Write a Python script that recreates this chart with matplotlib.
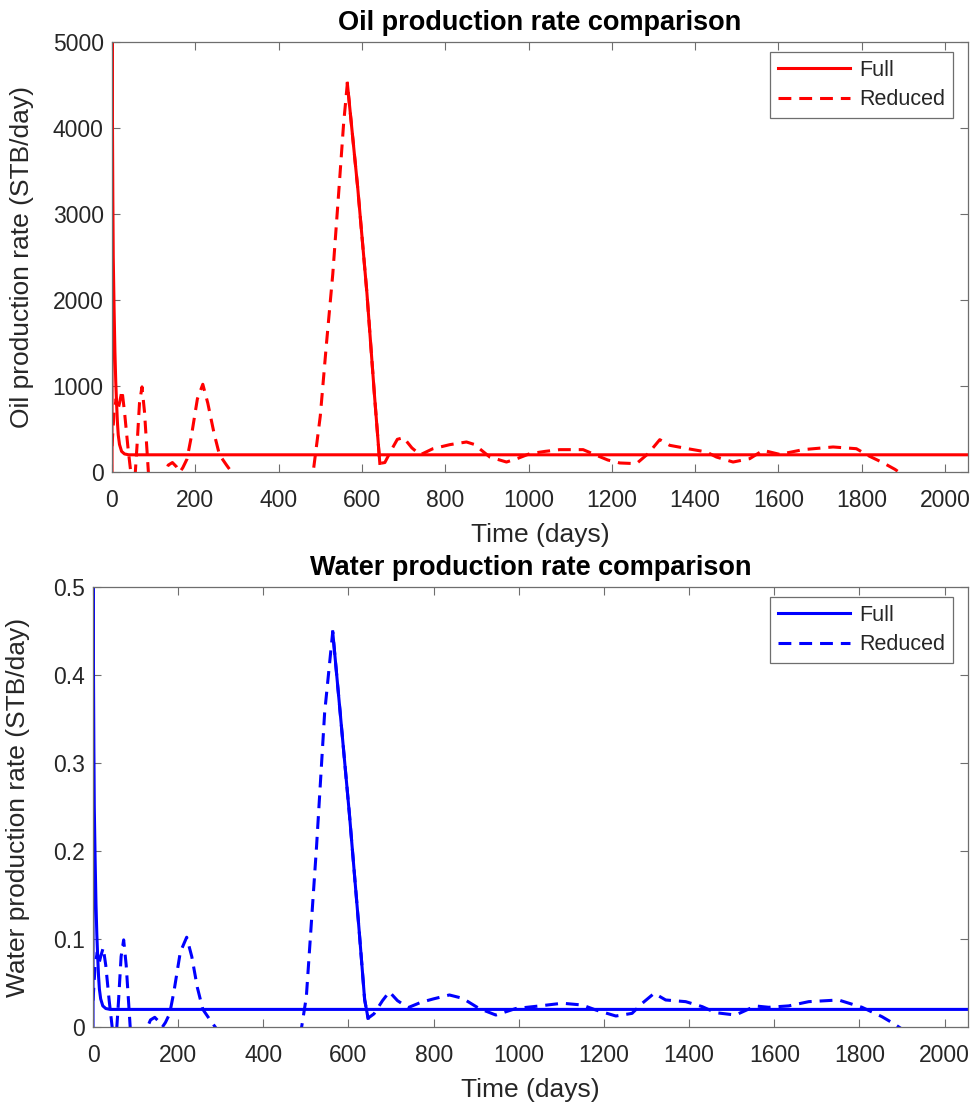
import matplotlib
matplotlib.use("Agg")
import matplotlib.pyplot as plt
import numpy as np

plt.rcParams['font.family'] = ['Liberation Sans', 'DejaVu Sans']

# ---------------- data ----------------
t_end = 2055

# Oil, full model
oil_full_t = [0, 0.5, 1, 2, 3, 5, 7, 9, 11, 13, 15, 18, 23, 30, 40, t_end]
oil_full_v = [0, 5600, 4200, 3200, 2500, 1900, 1400, 1050, 800, 580, 430, 320, 240, 210, 200, 200]

# Oil, reduced model
oil_red_t = [0, 5, 10, 14, 18, 24, 30, 38, 45, 52, 60, 66, 72, 78, 84, 90, 100, 115,
             128, 135, 145, 155, 163, 170, 180, 190, 205, 218, 230, 245, 258, 275, 290,
             320, 400, 460, 483, 500, 515, 530, 545, 556, 565, 590, 612, 630, 643, 655,
             670, 685, 700, 720, 740, 770, 811, 851, 870, 907, 947, 975, 1003, 1040,
             1075, 1131, 1163, 1190, 1219, 1259, 1287, 1315, 1339, 1387, 1427, 1451,
             1491, 1531, 1563, 1603, 1659, 1731, 1787, 1819, 1850, 1880, 1900]
oil_red_v = [300, 700, 850, 720, 800, 950, 700, 300, 0, -300, 300, 800, 990, 700, 250,
             -200, -500, -300, 0, 80, 110, 60, 0, 50, 150, 400, 850, 1020, 800, 450, 200,
             80, -20, -300, -500, -300, 0, 650, 1500, 2300, 3300, 4050, 4520, 3300, 2080,
             900, 100, 110, 250, 380, 400, 280, 200, 270, 318, 349, 320, 174, 116, 160,
             213, 240, 260, 260, 194, 140, 105, 97, 213, 376, 310, 267, 233, 174, 116,
             155, 252, 205, 260, 291, 271, 182, 110, 30, -40]

# Water, full model
wat_full_t = [0, 0.5, 1, 2, 3, 5, 7, 9, 11, 13, 15, 18, 23, 30, 40, t_end]
wat_full_v = [0, 0.56, 0.42, 0.32, 0.25, 0.19, 0.14, 0.105, 0.08, 0.058, 0.043, 0.032,
              0.024, 0.021, 0.02, 0.02]

# Water, reduced model
wat_red_t = [0, 5, 10, 14, 18, 24, 30, 38, 45, 52, 60, 66, 72, 78, 84, 90, 100, 115,
             128, 135, 145, 155, 163, 170, 180, 190, 205, 220, 232, 245, 258, 275, 290,
             320, 400, 470, 490, 501, 525, 544, 563, 580, 602, 625, 638, 646, 660, 680,
             696, 715, 740, 770, 800, 837, 868, 907, 946, 993, 1048, 1102, 1149, 1181,
             1228, 1266, 1290, 1318, 1345, 1392, 1431, 1462, 1509, 1556, 1587, 1634,
             1681, 1751, 1806, 1853, 1880, 1905]
wat_red_v = [0.03, 0.07, 0.085, 0.072, 0.08, 0.09, 0.07, 0.03, 0.0, -0.03, 0.03, 0.08,
             0.099, 0.07, 0.025, -0.02, -0.05, -0.03, 0.0, 0.008, 0.011, 0.006, 0.0,
             0.005, 0.015, 0.04, 0.085, 0.102, 0.08, 0.045, 0.02, 0.008, -0.002, -0.03,
             -0.05, -0.03, 0.0, 0.034, 0.205, 0.357, 0.449, 0.36, 0.243, 0.11, 0.031,
             0.01, 0.015, 0.03, 0.04, 0.03, 0.022, 0.028, 0.032, 0.0364, 0.0326, 0.021,
             0.0136, 0.021, 0.0239, 0.027, 0.025, 0.0193, 0.0125, 0.0155, 0.027, 0.0383,
             0.0307, 0.0288, 0.0231, 0.0163, 0.0136, 0.0239, 0.0224, 0.024, 0.0288,
             0.0307, 0.0224, 0.0117, 0.004, -0.004]

x_ticks = [0, 200, 400, 600, 800, 1000, 1200, 1400, 1600, 1800, 2000]
oil_yticks = [0, 1000, 2000, 3000, 4000, 5000]
wat_yticks = [0, 0.1, 0.2, 0.3, 0.4, 0.5]
wat_yticklabels = ['0', '0.1', '0.2', '0.3', '0.4', '0.5']

# ---------------- plot ----------------
W, H = 973, 1110
fig = plt.figure(figsize=(W / 100, H / 100), dpi=100)
ax1 = fig.add_axes([112/W, 1 - 472/H, (968-112)/W, (472-42)/H])
ax2 = fig.add_axes([93/W, 1 - 1027/H, (968-93)/W, (1027-587)/H])

axis_col = '#6e6e6e'
text_col = '#262626'
dash = (4.2, 2.6)


def style(ax, yticks, ylim, title, ylabel, ylab_x_px, left_px, width_px):
    ax.set_xlim(0, t_end)
    ax.set_ylim(*ylim)
    ax.set_xticks(x_ticks)
    ax.set_yticks(yticks)
    ax.tick_params(direction='in', length=6, width=0.8, color=axis_col,
                   labelcolor=text_col, labelsize=16.5, top=True, right=True)
    ax.tick_params(axis='x', pad=12)
    ax.tick_params(axis='y', pad=6)
    for s in ax.spines.values():
        s.set_color(axis_col)
        s.set_linewidth(0.9)
    ax.set_title(title, fontsize=19.5, fontweight='bold', color='black', pad=8.5)
    ax.set_xlabel('Time (days)', fontsize=19, color=text_col, labelpad=8)
    ax.set_ylabel(ylabel, fontsize=19, color=text_col)
    ax.yaxis.set_label_coords((ylab_x_px - left_px) / width_px, 0.5)


def draw(ax, ft, fv, rt, rv, col):
    ax.plot(ft, fv, color=col, lw=2.2, label='Full', solid_joinstyle='round')
    ax.plot(rt, rv, color=col, lw=2.2, dashes=dash, label='Reduced')
    # steep descending branch after the main peak rendered as continuous line
    ipk = int(np.argmax(rv))
    itr = ipk + int(np.argmin(rv[ipk:ipk + 6]))
    ax.plot(rt[ipk:itr + 1], rv[ipk:itr + 1], color=col, lw=2.2)
    w_px = ax.get_position().width * W
    h_px = ax.get_position().height * H
    leg = ax.legend(loc='upper right', bbox_to_anchor=(1 - 15/w_px, 1 - 10/h_px),
                    borderaxespad=0, fancybox=False, edgecolor=axis_col,
                    fontsize=15.5, handlelength=3.35, handletextpad=0.45,
                    framealpha=1, borderpad=0.35, labelspacing=0.4)
    leg.get_frame().set_linewidth(0.9)
    for t in leg.get_texts():
        t.set_color(text_col)


draw(ax1, oil_full_t, oil_full_v, oil_red_t, oil_red_v, '#ff0000')
style(ax1, oil_yticks, (0, 5000), 'Oil production rate comparison',
      'Oil production rate (STB/day)', 34, 112, 856)

draw(ax2, wat_full_t, wat_full_v, wat_red_t, wat_red_v, '#0000ff')
style(ax2, wat_yticks, (0, 0.5), 'Water production rate comparison',
      'Water production rate (STB/day)', 30, 93, 875)
ax2.set_yticklabels(wat_yticklabels)

fig.savefig('out.png', dpi=100)
